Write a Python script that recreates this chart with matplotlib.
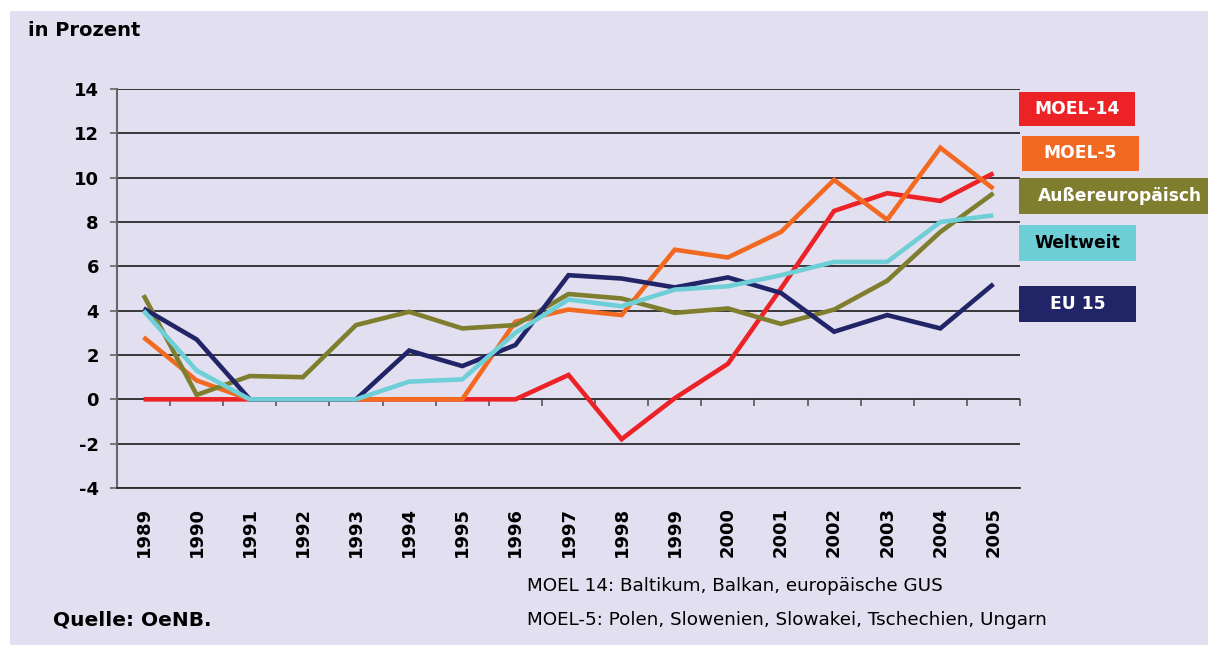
import numpy as np
import matplotlib
matplotlib.use("Agg")
import matplotlib.pyplot as plt
from matplotlib.patches import Rectangle

years = [str(y) for y in range(1989, 2006)]

moel14 = [0, 0, 0, 0, 0, 0, 0, 0, 1.1, -1.8, 0.05, 1.6, 5.0, 8.5, 9.3, 8.95, 10.2]
moel5 = [2.8, 0.85, 0, 0, 0, 0, 0, 3.5, 4.05, 3.8, 6.75, 6.4, 7.55, 9.9, 8.1, 11.35, 9.5]
aussereuropaeisch = [4.7, 0.2, 1.05, 1.0, 3.35, 3.95, 3.2, 3.35, 4.75, 4.55, 3.9, 4.1, 3.4, 4.05, 5.35, 7.55, 9.3]
weltweit = [4.0, 1.3, 0, 0, 0, 0.8, 0.9, 3.0, 4.5, 4.2, 4.95, 5.1, 5.6, 6.2, 6.2, 8.0, 8.3]
eu15 = [4.1, 2.7, 0, 0, 0, 2.2, 1.5, 2.45, 5.6, 5.45, 5.05, 5.5, 4.8, 3.05, 3.8, 3.2, 5.2]

series_names = ["MOEL-14", "MOEL-5", "Außereuropäisch", "Weltweit", "EU 15"]
series_values = [moel14, moel5, aussereuropaeisch, weltweit, eu15]
line_colors = ["#EC2227", "#F26A21", "#7E7E2E", "#6FCFD7", "#222468"]
text_colors = ["white", "white", "white", "black", "white"]
draw_order = [0, 1, 2, 4, 3]

y_min, y_max, y_step = -4, 14, 2

W, H = 1208, 645
BG = "#E2E0F0"

fig = plt.figure(figsize=(W / 100, H / 100), dpi=100, facecolor="white")

def fx(px):
    return px / W

def fy(py):
    return 1 - py / H

# lavender background panel
fig.patches.append(Rectangle((fx(10), 0), 1 - fx(10), fy(11), transform=fig.transFigure,
                             facecolor=BG, edgecolor="none", zorder=-10))

ax = fig.add_axes([fx(117), fy(488), fx(1020) - fx(117), fy(89) - fy(488)])
ax.set_facecolor("none")

x = np.arange(len(years))
for k, i in enumerate(draw_order):
    ax.plot(x, series_values[i], color=line_colors[i], lw=3.3, solid_joinstyle="miter",
            solid_capstyle="butt", zorder=3 + k * 0.01)

ax.set_xlim(-0.5, len(years) - 0.5)
ax.set_ylim(y_min, y_max)
ax.set_yticks(np.arange(y_min, y_max + 1, y_step))
ax.set_yticklabels([str(v) for v in range(y_min, y_max + 1, y_step)],
                   fontsize=13, fontweight="bold", family="DejaVu Sans")
ax.set_xticks(x)
ax.set_xticklabels(years, rotation=90, fontsize=13, fontweight="bold", family="DejaVu Sans")
ax.tick_params(axis="x", length=0, pad=13.5)
ax.tick_params(axis="y", length=5, width=1.2, color="#666666", pad=8)

ax.grid(axis="y", color="#2a2a2a", lw=1.3, zorder=1)
ax.set_axisbelow(True)
for s in ["top", "right"]:
    ax.spines[s].set_visible(False)
ax.spines["bottom"].set_color("#2a2a2a")
ax.spines["bottom"].set_linewidth(1.3)
ax.spines["left"].set_color("#666666")
ax.spines["left"].set_linewidth(1.5)

# small tick marks at the zero line between categories
loc0 = (0 - y_min) / (y_max - y_min)
sec = ax.secondary_xaxis(loc0)
sec.set_xticks(np.arange(0.5, len(years), 1.0))
sec.set_xticklabels([])
sec.tick_params(length=5, width=1.2, color="#555555", direction="out")
sec.spines["bottom"].set_visible(False)

# legend boxes
boxes = [(1019, 92, 1135, 126), (1022, 136, 1139, 171), (1019, 178, 1210, 214),
         (1019, 225, 1136, 261), (1019, 286, 1136, 322)]
for i, (x0, y0, x1, y1) in enumerate(boxes):
    fig.patches.append(Rectangle((fx(x0), fy(y1)), fx(x1) - fx(x0), fy(y0) - fy(y1),
                                 transform=fig.transFigure, facecolor=line_colors[i],
                                 edgecolor="none", zorder=5))
    cx = (x0 + x1) / 2 if i != 2 else 1120
    fig.text(fx(cx), fy((y0 + y1) / 2), series_names[i], ha="center", va="center",
             color=text_colors[i], fontsize=12.3, fontweight="bold", family="DejaVu Sans",
             zorder=6)

fig.text(fx(28), fy(36), "in Prozent", fontsize=14, fontweight="bold", family="DejaVu Sans",
         va="baseline", ha="left")
fig.text(fx(53), fy(626), "Quelle: OeNB.", fontsize=14.5, fontweight="bold",
         family="DejaVu Sans", va="baseline", ha="left")
fig.text(fx(527), fy(591), "MOEL 14: Baltikum, Balkan, europäische GUS", fontsize=13.2,
         family="DejaVu Sans", va="baseline", ha="left")
fig.text(fx(527), fy(625), "MOEL-5: Polen, Slowenien, Slowakei, Tschechien, Ungarn",
         fontsize=13.2, family="DejaVu Sans", va="baseline", ha="left")

fig.savefig("out.png", dpi=100, facecolor=fig.get_facecolor())
